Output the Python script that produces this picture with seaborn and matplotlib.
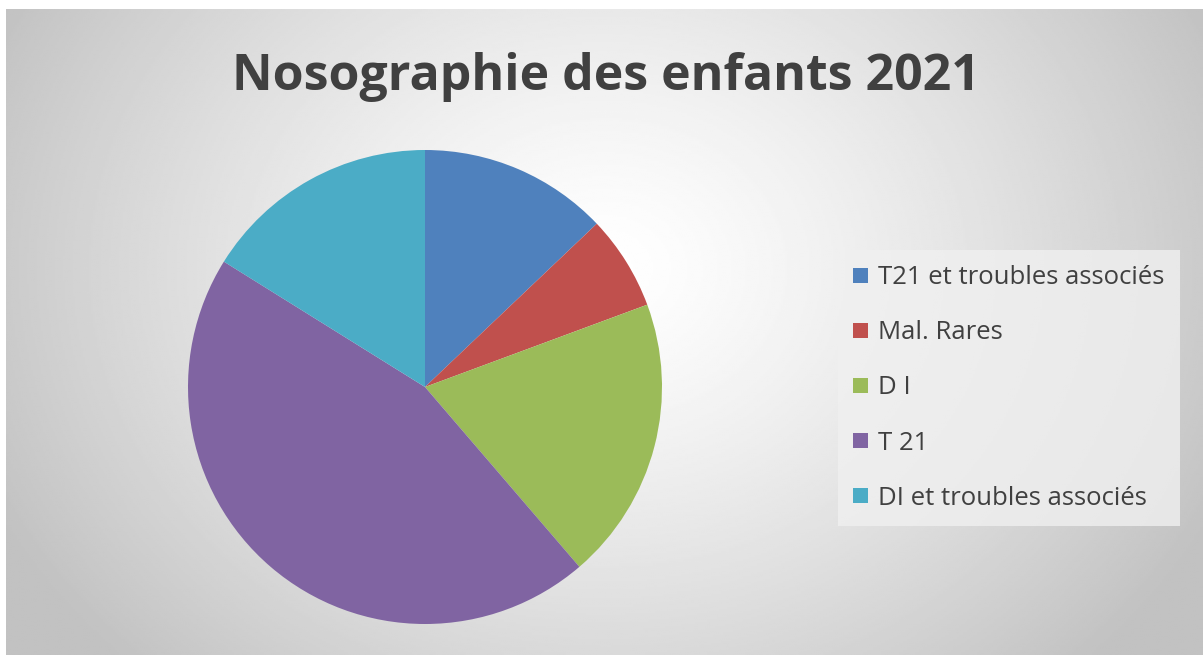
import numpy as np
import matplotlib
matplotlib.use("Agg")
import matplotlib.pyplot as plt
import seaborn as sns

categories = ["T21 et troubles associés", "Mal. Rares", "D I", "T 21", "DI et troubles associés"]
values = [4, 2, 6, 14, 5]
colors = ["#4F81BD", "#C0504D", "#9BBB59", "#8064A2", "#4BACC6"]
title = "Nosographie des enfants 2021"

sns.set_theme(style="white")
plt.rcParams['font.family'] = ['Open Sans', 'DejaVu Sans']

W, H = 1203, 657
fig = plt.figure(figsize=(W / 100, H / 100), dpi=100)
fig.patch.set_facecolor("white")

# background radial gradient
bg = fig.add_axes([6 / W, 2 / H, (W - 6) / W, (H - 11) / H])
bg.set_axis_off()
yy, xx = np.mgrid[0:300, 0:600]
cx, cy = 300, 120
d = np.sqrt(((xx - cx) / 340.0) ** 2 + ((yy - cy) / 260.0) ** 2)
d = np.clip(d, 0, 1)
val = 1.0 - 0.24 * d ** 1.3
bg.imshow(val, cmap="gray", vmin=0, vmax=1, aspect="auto", interpolation="bilinear")

# pie
cx_px, cy_px, r_px = 425, 387, 237
ax = fig.add_axes([(cx_px - r_px) / W, (H - cy_px - r_px) / H, 2 * r_px / W, 2 * r_px / H])
ax.pie(values, colors=colors, startangle=90, counterclock=False,
       wedgeprops=dict(linewidth=0))
ax.set_xlim(-1, 1)
ax.set_ylim(-1, 1)
ax.set_aspect("equal")
ax.set_axis_off()

fig.text(606 / W, 1 - 77 / H, title, ha="center", va="center",
         fontsize=36, fontweight="bold", color="#404040")

# legend
from matplotlib.patches import Patch
handles = [Patch(facecolor=c, edgecolor="none") for c in colors]
leg = fig.legend(handles, categories, loc="center left",
                 bbox_to_anchor=(838 / W, 1 - 388 / H),
                 frameon=True, fontsize=18.5, labelcolor="#404040",
                 handlelength=0.55, handleheight=0.55, handletextpad=0.4,
                 labelspacing=1.17, borderpad=0.6, borderaxespad=0,
                 fancybox=False)
leg.get_frame().set_facecolor("#f0f0f0")
leg.get_frame().set_edgecolor("none")
leg.get_frame().set_alpha(0.8)

fig.savefig("out.png", dpi=100)
